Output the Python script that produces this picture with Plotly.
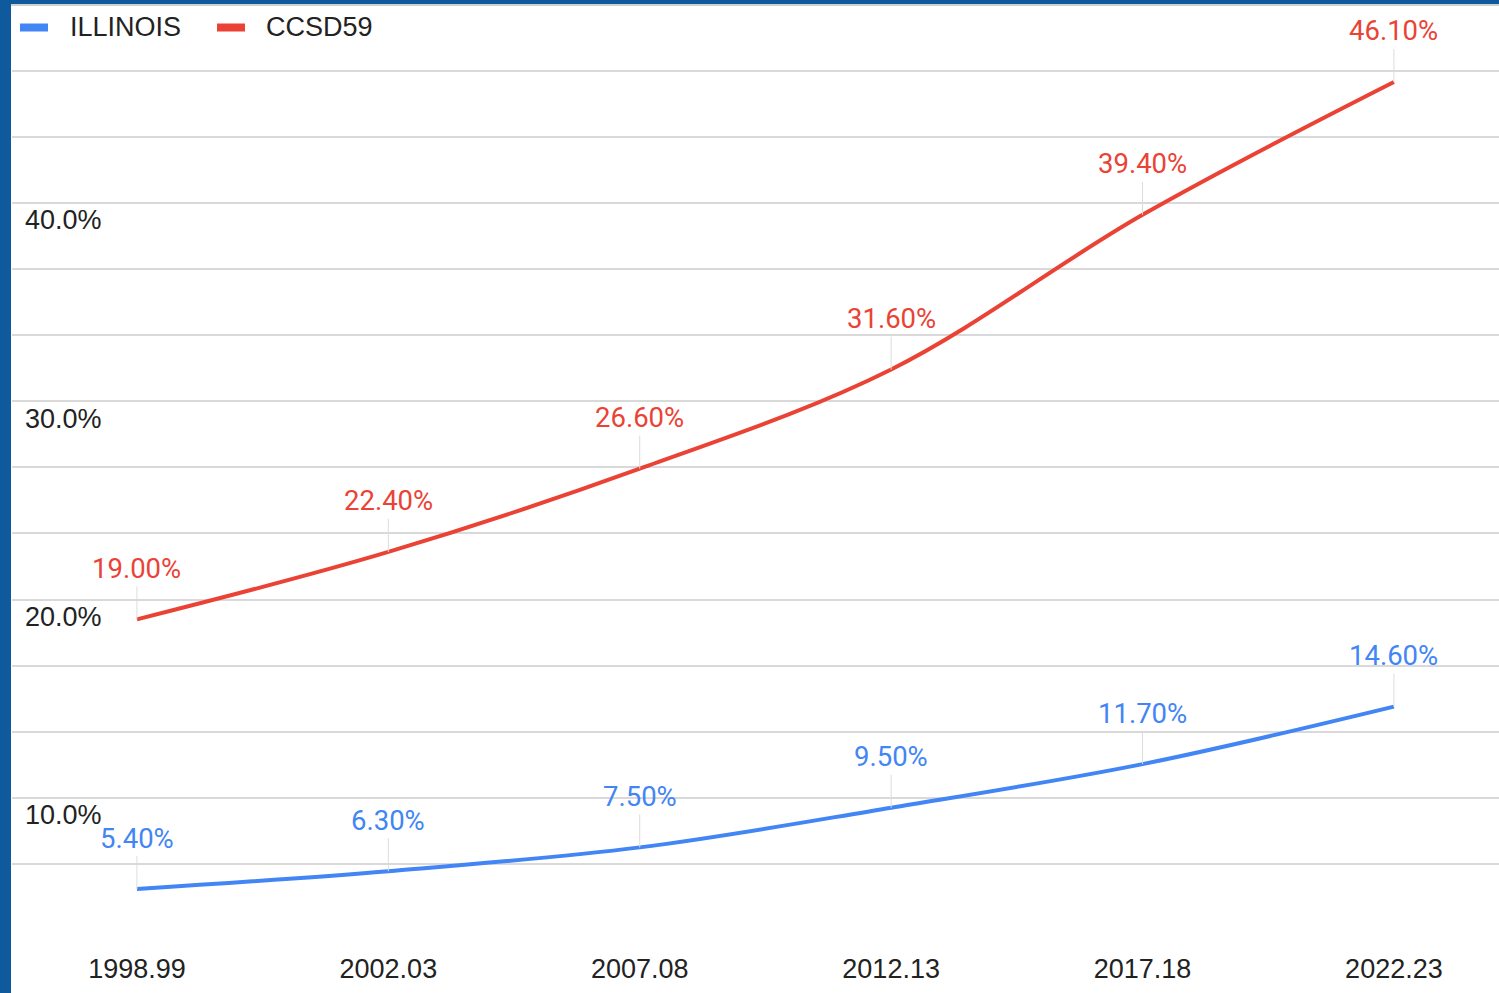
import plotly.graph_objects as go

# School years on the category axis
years = ["1998.99", "2002.03", "2007.08", "2012.13", "2017.18", "2022.23"]

# Percent values per series
illinois = [5.4, 6.3, 7.5, 9.5, 11.7, 14.6]
ccsd59 = [19.0, 22.4, 26.6, 31.6, 39.4, 46.1]

# Gridlines every 3.33%, labelled at each 10%
grid_vals = [k * 10 / 3 for k in range(1, 15)]
grid_text = [f"{v:.1f}%" if k % 3 == 0 else "" for k, v in zip(range(1, 15), grid_vals)]

BLUE = "#4285f4"
RED = "#ea4335"
TEXT = "#222222"
GRID = "#d9d9d9"

W, H = 1499, 993
ML, MR, MT, MB = 12, 0, 0, 63
PW, PH = W - ML - MR, H - MT - MB


def px_x(px):
    return (px - ML) / PW


def px_y(py):
    return (MT + PH - py) / PH


fig = go.Figure()

series = [("ILLINOIS", illinois, BLUE), ("CCSD59", ccsd59, RED)]
for name, vals, color in series:
    fig.add_trace(go.Scatter(
        x=years, y=vals, name=name, mode="lines",
        line=dict(color=color, width=4, shape="spline", smoothing=1),
        showlegend=False, hoverinfo="skip",
    ))
    # Value labels with a thin leader line down to each point
    for i, v in enumerate(vals):
        fig.add_annotation(
            x=i, y=v, xref="x", yref="y",
            text=f"{v:.2f}%", showarrow=True, arrowhead=0, arrowwidth=1,
            arrowcolor="#dcdcdc", ax=0, ay=-51, standoff=0,
            font=dict(family="Roboto", size=27.5, color=color),
        )

# Legend row along the top-left
legend_items = [("ILLINOIS", BLUE, 20, 48, 68), ("CCSD59", RED, 217, 245, 264)]
for name, color, x0, x1, tx in legend_items:
    fig.add_shape(type="line", xref="paper", yref="paper",
                  x0=px_x(x0), x1=px_x(x1), y0=px_y(27.5), y1=px_y(27.5),
                  line=dict(color=color, width=8))
    fig.add_annotation(xref="paper", yref="paper", x=px_x(tx), y=px_y(27),
                       text=name, showarrow=False, xanchor="left", yanchor="middle",
                       font=dict(family="Liberation Sans", size=27, color=TEXT))

# Frame: dark blue band on the left and top
fig.add_shape(type="rect", xref="paper", yref="paper", layer="above",
              x0=px_x(-2), x1=px_x(11), y0=px_y(-2), y1=px_y(H + 2),
              fillcolor="#0f5a9c", line=dict(width=0))
fig.add_shape(type="rect", xref="paper", yref="paper", layer="above",
              x0=px_x(-2), x1=px_x(W + 2), y0=px_y(4), y1=px_y(-2),
              fillcolor="#0f5a9c", line=dict(width=0))
fig.add_shape(type="line", xref="paper", yref="paper", layer="above",
              x0=px_x(11), x1=px_x(W + 2), y0=px_y(5), y1=px_y(5),
              line=dict(color="#d0d0d0", width=2))

fig.update_xaxes(
    type="category", range=[-0.497, 5.418], showgrid=False, zeroline=False,
    showline=False, ticks="", ticklabelstandoff=20,
    tickfont=dict(family="Liberation Sans", size=27, color=TEXT),
)
fig.update_yaxes(
    range=[10 / 3, 50.235], tickvals=grid_vals, ticktext=grid_text,
    showgrid=True, gridcolor=GRID, gridwidth=2, zeroline=False, showline=False,
    ticks="", ticklabelposition="inside", ticklabelshift=17, ticklabelstandoff=10,
    tickfont=dict(family="Liberation Sans", size=27, color=TEXT),
)

fig.update_layout(
    width=W, height=H,
    margin=dict(l=ML, r=MR, t=MT, b=MB),
    paper_bgcolor="white", plot_bgcolor="white",
    showlegend=False,
)

fig.write_html("out.html")
